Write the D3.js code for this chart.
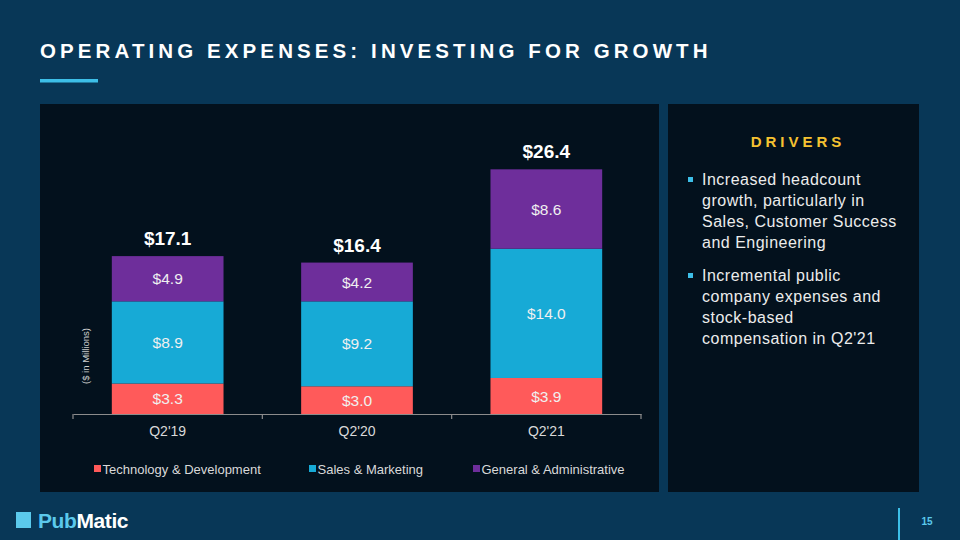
<!DOCTYPE html>
<html><head><meta charset="utf-8">
<script src="https://cdn.jsdelivr.net/npm/d3@7"></script>
<style>
html,body{margin:0;padding:0;background:#083757;}
svg{display:block;font-family:"Liberation Sans",Arial,sans-serif;}
</style></head>
<body>
<svg id="c" width="960" height="540"></svg>
<script>
const categories = ["Q2'19", "Q2'20", "Q2'21"];
const seriesNames = ["Technology & Development", "Sales & Marketing", "General & Administrative"];
const techDev = [3.3, 3.0, 3.9];
const salesMkt = [8.9, 9.2, 14.0];
const genAdmin = [4.9, 4.2, 8.6];
const totals = [17.1, 16.4, 26.4];
const colors = ["#ff5a5a", "#17aad6", "#6e2e9b"];
const drivers = [
  ["Increased headcount", "growth, particularly in", "Sales, Customer Success", "and Engineering"],
  ["Incremental public", "company expenses and", "stock-based", "compensation in Q2'21"]
];

const svg = d3.select("#c");
svg.append("rect").attr("width",960).attr("height",540).attr("fill","#083757");

// Title
svg.append("text").attr("x",40).attr("y",58).attr("fill","#ffffff")
  .attr("font-size",20.5).attr("font-weight","bold").attr("letter-spacing","4.1px")
  .text("OPERATING EXPENSES: INVESTING FOR GROWTH");
svg.append("rect").attr("x",40).attr("y",79).attr("width",58).attr("height",3.5).attr("fill","#3dbfe8");

// Panels
svg.append("rect").attr("x",40).attr("y",104).attr("width",619).attr("height",388).attr("fill","#03111d");
svg.append("rect").attr("x",668).attr("y",104).attr("width",251).attr("height",388).attr("fill","#03111d");

// Chart
const x = d3.scaleBand().domain(categories).range([73,641]).paddingInner(0.41).paddingOuter(0.205);
const y = d3.scaleLinear().domain([0,30]).range([414,137]);

const rows = categories.map((c,i)=>({cat:c, [seriesNames[0]]:techDev[i], [seriesNames[1]]:salesMkt[i], [seriesNames[2]]:genAdmin[i]}));
const stack = d3.stack().keys(seriesNames)(rows);

const g = svg.append("g");
stack.forEach((layer,li)=>{
  layer.forEach(d=>{
    g.append("rect").attr("x",x(d.data.cat)).attr("width",x.bandwidth())
      .attr("y",y(d[1])).attr("height",y(d[0])-y(d[1])).attr("fill",colors[li]);
    const v = d[1]-d[0];
    g.append("text").attr("x",x(d.data.cat)+x.bandwidth()/2).attr("y",(y(d[0])+y(d[1]))/2)
      .attr("dy","0.36em").attr("text-anchor","middle").attr("fill","#f0f0f0")
      .attr("font-size",15.5).text("$"+v.toFixed(1));
  });
});
// totals
categories.forEach((c,i)=>{
  const top = y(techDev[i]+salesMkt[i]+genAdmin[i]);
  g.append("text").attr("x",x(c)+x.bandwidth()/2).attr("y",top-11)
    .attr("text-anchor","middle").attr("fill","#ffffff").attr("font-size",19).attr("font-weight","bold")
    .text("$"+totals[i].toFixed(1));
});

// x axis
const axis = svg.append("g").attr("transform","translate(0,414)")
  .call(d3.axisBottom(x).tickSize(0).tickPadding(12));
axis.select(".domain").attr("stroke","#8c8c8c").attr("stroke-width",1.2);
axis.selectAll(".tick text").attr("fill","#d9d9d9").attr("font-size",14)
  .attr("font-family","Liberation Sans, Arial, sans-serif");
// boundary ticks
const bounds = [73, ...categories.map(c=>x(c)+x.bandwidth()+x.step()*x.paddingInner()/2).slice(0,2), 641];
bounds.forEach(b=>{
  svg.append("line").attr("x1",b).attr("x2",b).attr("y1",414).attr("y2",419).attr("stroke","#8c8c8c").attr("stroke-width",1.2);
});

// y label
svg.append("text").attr("transform","translate(89,356) rotate(-90)").attr("text-anchor","middle")
  .attr("fill","#d0d0d0").attr("font-size",9.5).text("($ in Millions)");

// legend
const legX = [94, 309, 473];
seriesNames.forEach((s,i)=>{
  svg.append("rect").attr("x",legX[i]).attr("y",465).attr("width",7).attr("height",7).attr("fill",colors[i]);
  svg.append("text").attr("x",legX[i]+8.5).attr("y",473.5).attr("fill","#d9d9d9").attr("font-size",13).text(s);
});

// Drivers panel
svg.append("text").attr("x",798).attr("y",147).attr("text-anchor","middle").attr("fill","#f5c231")
  .attr("font-size",15).attr("font-weight","bold").attr("letter-spacing","4px").text("DRIVERS");
const starts = [185, 281];
drivers.forEach((lines,bi)=>{
  svg.append("rect").attr("x",688).attr("y",starts[bi]-8).attr("width",5).attr("height",5).attr("fill","#3dbfe8");
  lines.forEach((l,li)=>{
    svg.append("text").attr("x",702).attr("y",starts[bi]+li*21).attr("fill","#ececec")
      .attr("font-size",16).attr("letter-spacing","0.5px").text(l);
  });
});

// Footer
svg.append("rect").attr("x",16).attr("y",512).attr("width",15).attr("height",16).attr("fill","#5bc9ec");
const logo = svg.append("text").attr("x",38).attr("y",528).attr("font-size",21).attr("font-weight","bold").attr("letter-spacing","-0.4px");
logo.append("tspan").attr("fill","#5bc9ec").text("Pub");
logo.append("tspan").attr("fill","#ffffff").text("Matic");
svg.append("rect").attr("x",898).attr("y",508).attr("width",2).attr("height",32).attr("fill","#3dbfe8");
svg.append("text").attr("x",927).attr("y",525).attr("text-anchor","middle").attr("fill","#5bc9ec")
  .attr("font-size",10).attr("font-weight","bold").text("15");
</script>
</body></html>
